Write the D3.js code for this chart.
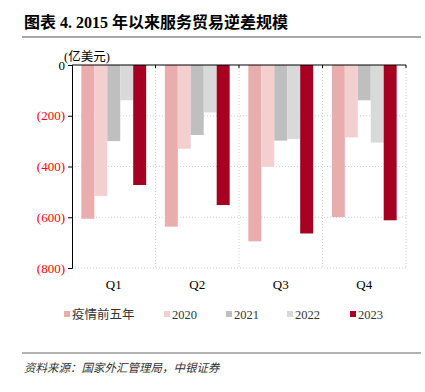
<html>
<head>
<meta charset="utf-8">
<script src="https://d3js.org/d3.v7.min.js"></script>
<style>
  body { margin: 0; background: #fff; }
  text { font-family: "Liberation Serif", "Times New Roman", "Noto Sans CJK SC", serif; }
</style>
</head>
<body>
<script>
// chart data
var quarters = ["Q1", "Q2", "Q3", "Q4"];
var seriesNames = ["疫情前五年", "2020", "2021", "2022", "2023"];
var seriesColors = ["#e8adac", "#f4cfd0", "#bfbfbf", "#d9d9d9", "#a50021"];
var preCovid = [-606, -637, -695, -599];
var y2020 = [-516, -330, -401, -285];
var y2021 = [-300, -276, -298, -139];
var y2022 = [-139, -187, -292, -306];
var y2023 = [-473, -552, -664, -612];
var yTicks = [0, -200, -400, -600, -800];

var allSeries = [preCovid, y2020, y2021, y2022, y2023];

var W = 425, H = 392;
var svg = d3.select("body").append("svg").attr("width", W).attr("height", H);

var plotL = 72, plotR = 406, plotT = 65, plotB = 268;

var x = d3.scaleBand().domain(quarters).range([plotL, plotR]).paddingInner(0).paddingOuter(0);
var x1 = d3.scaleBand().domain(seriesNames).range([0, x.bandwidth()]).paddingOuter(0.72).paddingInner(0);
var y = d3.scaleLinear().domain([-800, 0]).range([plotB, plotT]);

// title
svg.append("text").attr("x", 24).attr("y", 28)
  .style("font-size", "16px").style("font-weight", "bold")
  .text("图表 4. 2015 年以来服务贸易逆差规模");
svg.append("line").attr("x1", 22).attr("x2", 421).attr("y1", 37).attr("y2", 37)
  .attr("stroke", "#8c8c8c").attr("stroke-width", 1.5);

// grid
var grid = svg.append("g");
yTicks.filter(function (d) { return d !== 0; }).forEach(function (t) {
  grid.append("line").attr("x1", plotL).attr("x2", plotR).attr("y1", y(t)).attr("y2", y(t))
    .attr("stroke", "#d0d0d0").attr("stroke-dasharray", "1,2");
});
quarters.forEach(function (q, i) {
  if (i === 0) return;
  grid.append("line").attr("x1", x(q)).attr("x2", x(q)).attr("y1", plotT).attr("y2", plotB)
    .attr("stroke", "#d0d0d0").attr("stroke-dasharray", "1,2");
});
grid.append("line").attr("x1", plotR).attr("x2", plotR).attr("y1", plotT).attr("y2", plotB)
  .attr("stroke", "#d0d0d0").attr("stroke-dasharray", "1,2");

// bars
seriesNames.forEach(function (s, si) {
  svg.append("g").selectAll("rect")
    .data(allSeries[si])
    .enter().append("rect")
    .attr("x", function (d, i) { return x(quarters[i]) + x1(s); })
    .attr("width", x1.bandwidth())
    .attr("y", y(0))
    .attr("height", function (d) { return y(d) - y(0); })
    .attr("fill", seriesColors[si]);
});

// y axis
var yAxis = svg.append("g").attr("transform", "translate(" + plotL + ",0)")
  .call(d3.axisLeft(y).tickValues(yTicks).tickSize(4)
    .tickFormat(function (d) { return d === 0 ? "0" : "(" + Math.abs(d) + ")"; }));
yAxis.select(".domain").attr("stroke", "#000");
yAxis.selectAll(".tick line").attr("stroke", "#000");
yAxis.selectAll(".tick text")
  .style("font-size", "13px")
  .style("font-family", "'Liberation Serif', serif")
  .attr("x", -7)
  .attr("fill", function (d) { return d === 0 ? "#000" : "#ff0000"; });

// top (zero) axis with band ticks
svg.append("line").attr("x1", plotL).attr("x2", plotR).attr("y1", plotT).attr("y2", plotT)
  .attr("stroke", "#000").attr("stroke-width", 1);
quarters.forEach(function (q) {
  svg.append("line").attr("x1", x(q) + x.bandwidth()).attr("x2", x(q) + x.bandwidth())
    .attr("y1", plotT).attr("y2", plotT + 3).attr("stroke", "#000");
});

// category labels
svg.append("g").selectAll("text").data(quarters).enter().append("text")
  .attr("x", function (d) { return x(d) + x.bandwidth() / 2; })
  .attr("y", 289).attr("text-anchor", "middle")
  .style("font-size", "13px").text(function (d) { return d; });

// unit
svg.append("text").attr("x", 64).attr("y", 61)
  .style("font-size", "12.5px")
  .text("(亿美元)");

// legend
var legendX = [64, 164, 226, 287, 350];
seriesNames.forEach(function (s, i) {
  svg.append("rect").attr("x", legendX[i]).attr("y", 311).attr("width", 6).attr("height", 6)
    .attr("fill", seriesColors[i]);
  svg.append("text").attr("x", legendX[i] + 8).attr("y", 319)
    .style("font-size", "12.5px")
    .attr("fill", "#333")
    .text(s);
});

// footer
svg.append("line").attr("x1", 22).attr("x2", 421).attr("y1", 353).attr("y2", 353)
  .attr("stroke", "#666").attr("stroke-width", 1);
svg.append("text").attr("x", 24).attr("y", 372)
  .style("font-size", "11.5px").style("font-style", "italic")
  .attr("fill", "#333")
  .text("资料来源：国家外汇管理局，中银证券");
</script>
</body>
</html>
